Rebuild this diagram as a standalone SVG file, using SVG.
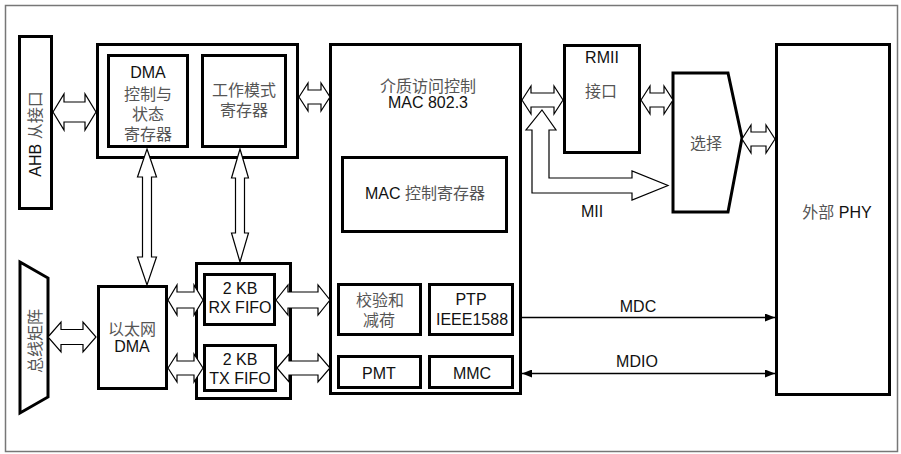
<svg xmlns="http://www.w3.org/2000/svg" width="901" height="454" viewBox="0 0 901 454">
<style>
.box{fill:#fff;stroke:#000;stroke-width:3}
.arr{fill:#fff;stroke:#000;stroke-width:1.2;stroke-linejoin:miter}
.ln{fill:none;stroke:#000;stroke-width:1.5}
text{font-family:"Liberation Sans","Noto Sans CJK SC",sans-serif;font-size:16px;fill:#111;text-anchor:middle}
.cj{font-family:"Noto Sans CJK SC",sans-serif;fill:#555}
</style>
<defs>
<marker id="ah" viewBox="0 0 10 8" refX="10" refY="4" markerWidth="10" markerHeight="8" markerUnits="userSpaceOnUse" orient="auto-start-reverse">
<path d="M0,0 L10,4 L0,8 z" fill="#000"/>
</marker>
</defs>
<rect x="5.5" y="5.5" width="892" height="446" fill="#fff" stroke="#777" stroke-width="1.5"/>

<g id="ahb">
<rect class="box" x="19.5" y="36.5" width="32" height="172"/>
<text transform="translate(41,134) rotate(-90)">AHB <tspan class="cj">从接口</tspan></text>
</g>

<g id="busmatrix">
<polygon class="box" points="20,262 48,278 48,397 20,413"/>
<text class="cj" transform="translate(41,341) rotate(-90)">总线矩阵</text>
</g>

<g id="dma-regs">
<rect class="box" x="97.5" y="44.5" width="200" height="113"/>
<g id="dma-csr">
<rect class="box" x="108.5" y="55.5" width="79" height="91"/>
<text x="148" y="78">DMA</text>
<text class="cj" x="148" y="100">控制与</text>
<text class="cj" x="148" y="120">状态</text>
<text class="cj" x="148" y="140">寄存器</text>
</g>
<g id="mode-regs">
<rect class="box" x="202.5" y="55.5" width="83" height="91"/>
<text class="cj" x="244" y="96">工作模式</text>
<text class="cj" x="244" y="116">寄存器</text>
</g>
</g>

<g id="eth-dma">
<rect class="box" x="98.5" y="286.5" width="68" height="102"/>
<text class="cj" x="132" y="335">以太网</text>
<text x="132" y="352">DMA</text>
</g>

<g id="fifos">
<rect class="box" x="196.5" y="263.5" width="94" height="135"/>
<g id="rx-fifo">
<rect class="box" x="204.5" y="274.5" width="70" height="50"/>
<text x="240" y="294">2 KB</text>
<text x="240" y="313">RX FIFO</text>
</g>
<g id="tx-fifo">
<rect class="box" x="204.5" y="345.5" width="71" height="45"/>
<text x="240" y="365">2 KB</text>
<text x="240" y="384">TX FIFO</text>
</g>
</g>

<g id="mac">
<rect class="box" x="330.5" y="44.5" width="190" height="349"/>
<text class="cj" x="428" y="92">介质访问控制</text>
<text x="428" y="108">MAC 802.3</text>
<g id="mac-ctrl">
<rect class="box" x="342.5" y="157.5" width="164" height="74"/>
<text x="425" y="199">MAC <tspan class="cj">控制寄存器</tspan></text>
</g>
<g id="checksum">
<rect class="box" x="338.5" y="284.5" width="82" height="50"/>
<text class="cj" x="380" y="306">校验和</text>
<text class="cj" x="379" y="326">减荷</text>
</g>
<g id="ptp">
<rect class="box" x="429.5" y="284.5" width="83" height="50"/>
<text x="471" y="305">PTP</text>
<text x="472" y="325">IEEE1588</text>
</g>
<g id="pmt">
<rect class="box" x="338.5" y="356.5" width="82" height="31"/>
<text x="379" y="379">PMT</text>
</g>
<g id="mmc">
<rect class="box" x="429.5" y="356.5" width="83" height="31"/>
<text x="472" y="379">MMC</text>
</g>
</g>

<g id="rmii">
<rect class="box" x="564.5" y="45.5" width="75" height="107"/>
<text x="602" y="63">RMII</text>
<text class="cj" x="601" y="97">接口</text>
</g>

<g id="select">
<polygon class="box" points="673,73 728,73 742,138 728,212 673,212"/>
<text class="cj" x="706" y="149">选择</text>
</g>

<g id="phy">
<rect class="box" x="776.5" y="44.5" width="113" height="350"/>
<text x="837" y="218"><tspan class="cj">外部</tspan> PHY</text>
</g>

<g id="connectors">
<polygon class="arr" points="53,112 64,94 64,102 85,102 85,94 96,112 85,130 85,122 64,122 64,130"/>
<polygon class="arr" points="48,337 61,322 61,329.5 83,329.5 83,322 96,337 83,352 83,344.5 61,344.5 61,352"/>
<polygon class="arr" points="147,149 156.5,177 151.5,177 151.5,257 156.5,257 147,285 137.5,257 142.5,257 142.5,177 137.5,177"/>
<polygon class="arr" points="240,149 248.5,178 244.5,178 244.5,233 248.5,233 240,262 231.5,233 235.5,233 235.5,178 231.5,178"/>
<polygon class="arr" points="168,300 177,285 177,292 194,292 194,285 203,300 194,315 194,308 177,308 177,315"/>
<polygon class="arr" points="168,368 177,354 177,361 194,361 194,354 203,368 194,382 194,375 177,375 177,382"/>
<polygon class="arr" points="276,300 288,285 288,292 318,292 318,285 330,300 318,315 318,308 288,308 288,315"/>
<polygon class="arr" points="277,368 289,354 289,361 318,361 318,354 330,368 318,382 318,375 289,375 289,382"/>
<polygon class="arr" points="299,97 308,83 308,90 321,90 321,83 330,97 321,111 321,104 308,104 308,111"/>
<polygon class="arr" points="522,100 531,86 531,93 554,93 554,86 563,100 554,114 554,107 531,107 531,114"/>
<polygon class="arr" points="641,100 650,86 650,93 664,93 664,86 673,100 664,114 664,107 650,107 650,114"/>
<polygon class="arr" points="742,139 751,125 751,132 766,132 766,125 775,139 766,153 766,146 751,146 751,153"/>
<polygon class="arr" points="542,110 556,130 549,130 549,178 632,178 632,171 668,185.5 632,200 632,193 532,193 532,130 526,130"/>
<text x="592" y="217">MII</text>
<line class="ln" x1="522" y1="317.5" x2="775" y2="317.5" marker-end="url(#ah)"/>
<text x="638" y="312">MDC</text>
<line class="ln" x1="522" y1="373.5" x2="775" y2="373.5" marker-start="url(#ah)" marker-end="url(#ah)"/>
<text x="637" y="367">MDIO</text>
</g>
</svg>
